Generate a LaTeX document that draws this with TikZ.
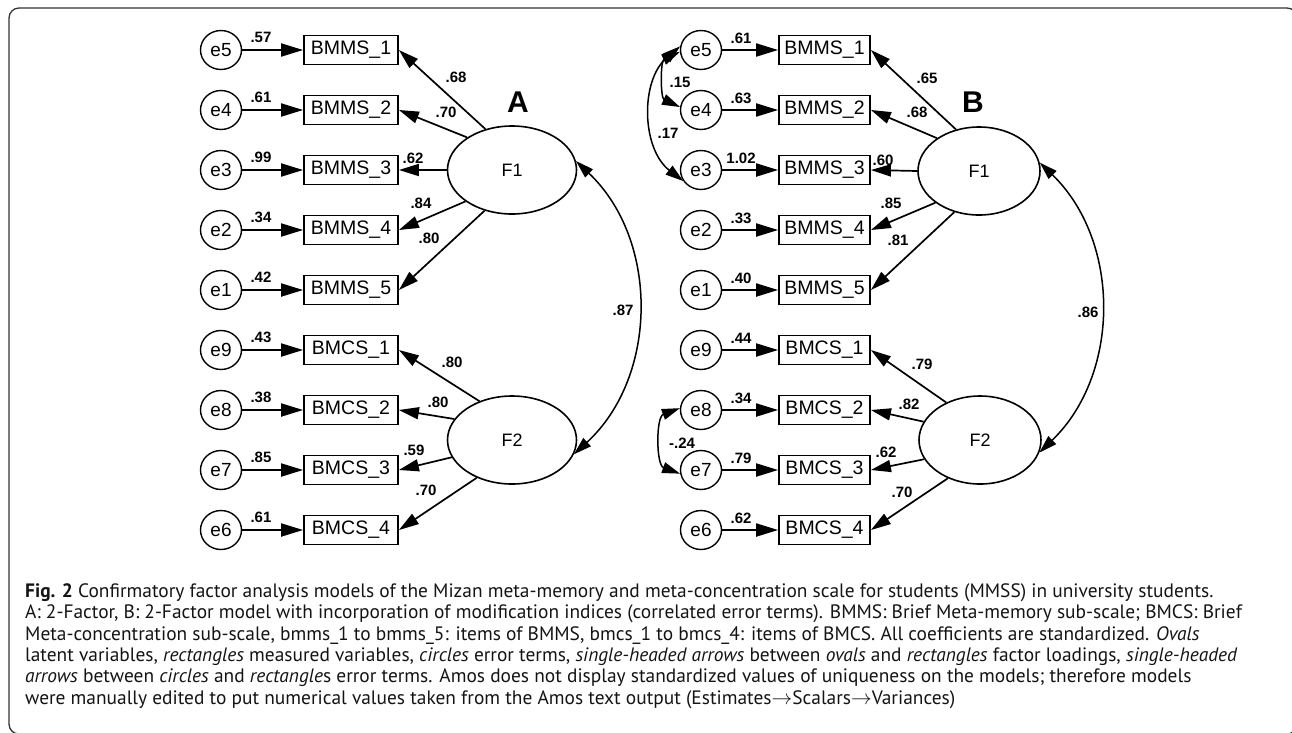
\documentclass[tikz,border=0pt]{standalone}
\usepackage{fontspec}
\setmainfont{Liberation Sans}
\newfontfamily\capfont{PT Sans}
\usetikzlibrary{arrows.meta,shapes.geometric}
\begin{document}
\begin{tikzpicture}[x=1pt,y=-1pt,
  err/.style={ellipse,draw,line width=1.4pt,minimum width=41pt,minimum height=39pt,inner sep=0pt,font=\fontsize{19}{19}\selectfont},
  obs/.style={rectangle,draw,line width=1.8pt,minimum height=29pt,inner sep=0pt,font=\fontsize{19.5}{19.5}\selectfont},
  lat/.style={ellipse,draw,line width=1.6pt,minimum height=88pt,inner sep=0pt,font=\fontsize{18}{18}\selectfont},
  earr/.style={line width=2pt,-{Triangle[length=22pt,width=13pt]}},
  larr/.style={line width=1.7pt,-{Triangle[length=20pt,width=12pt]}},
  carr/.style={line width=1.5pt,{Triangle[length=18pt,width=11pt]}-{Triangle[length=18pt,width=11pt]}},
  num/.style={font=\bfseries\fontsize{15}{15}\selectfont,inner sep=0pt},
  panel/.style={font=\bfseries\fontsize{30}{30}\selectfont,inner sep=0pt},
  captext/.style={anchor=base west,inner sep=0pt,text height=13pt,text depth=4pt,font=\capfont\fontsize{19.4}{21}\selectfont,text=black!92},
]
\useasboundingbox (0,0) rectangle (1292,732);
\draw[line width=1.3pt,rounded corners=10pt,black!80] (9,8) rectangle (1297,734);

% ---------------- Panel A ----------------
\foreach \i/\e/\b/\v in {1/5/BMMS\_1/.57,2/4/BMMS\_2/.61,3/3/BMMS\_3/.99,4/2/BMMS\_4/.34,5/1/BMMS\_5/.42,6/9/BMCS\_1/.43,7/8/BMCS\_2/.38,8/7/BMCS\_3/.85,9/6/BMCS\_4/.61}{
  \node[err] (Ae\i) at (221,{50+60*(\i-1)}) {e\e};
  \node[obs,minimum width=94pt] (Ab\i) at (351,{50+60*(\i-1)}) {\b};
  \draw[earr] (Ae\i) -- (Ab\i);
  \node[num] (Av\i) at (261,{37+60*(\i-1)}) {\v};
}
\node[lat,minimum width=129pt] (AF1) at (512,170) {F1};
\node[lat,minimum width=129pt] (AF2) at (512,440) {F2};
\foreach \i/\a in {1/123,2/144,3/180,4/214,5/236}{\draw[larr] (AF1.\a) -- (Ab\i.east);}
\foreach \i/\a in {6/130,7/160,8/196,9/227}{\draw[larr] (AF2.\a) -- (Ab\i.east);}
\draw[carr] (AF1.8) to[bend left=47] (AF2.-13);
\node[num] (Al1) at (456,77) {.68};
\node[num] (Al2) at (446,112) {.70};
\node[num] (Al3) at (413,158) {.62};
\node[num] (Al4) at (421,203) {.84};
\node[num] (Al5) at (429,238) {.80};
\node[num] (Al6) at (452,362) {.80};
\node[num] (Al7) at (438,402) {.80};
\node[num] (Al8) at (414,450) {.59};
\node[num] (Al9) at (426,490) {.70};
\node[num] (Ac) at (623,310) {.87};
\node[panel] (LA) at (518,102) {A};

% ---------------- Panel B ----------------
\foreach \i/\e/\b/\v in {1/5/BMMS\_1/.61,2/4/BMMS\_2/.63,3/3/BMMS\_3/1.02,4/2/BMMS\_4/.33,5/1/BMMS\_5/.40,6/9/BMCS\_1/.44,7/8/BMCS\_2/.34,8/7/BMCS\_3/.79,9/6/BMCS\_4/.62}{
  \node[err] (Be\i) at (701,{50+60*(\i-1)}) {e\e};
  \node[obs,minimum width=91pt] (Bb\i) at (824.5,{50+60*(\i-1)}) {\b};
  \draw[earr] (Be\i) -- (Bb\i);
  \node[num] (Bv\i) at (741,{38+60*(\i-1)}) {\v};
}
\node[lat,minimum width=122pt] (BF1) at (979,171) {F1};
\node[lat,minimum width=122pt] (BF2) at (980,440) {F2};
\foreach \i/\a in {1/119,2/142,3/180,4/216,5/239}{\draw[larr] (BF1.\a) -- (Bb\i.east);}
\foreach \i/\a in {6/132,7/162,8/199,9/230}{\draw[larr] (BF2.\a) -- (Bb\i.east);}
\draw[carr] (BF1.8) to[bend left=46] (BF2.-12);
\draw[carr] (Be1.185) to[bend right=65] (Be2.172);
\draw[carr] (Be1.170) to[bend right=51] (Be3.212);
\draw[carr] (Be7.175) to[bend right=70] (Be8.190);
\node[num] (Bl1) at (927,78) {.65};
\node[num] (Bl2) at (917,112) {.68};
\node[num] (Bl3) at (883,160) {.60};
\node[num] (Bl4) at (891,203) {.85};
\node[num] (Bl5) at (898,240) {.81};
\node[num] (Bl6) at (922,364) {.79};
\node[num] (Bl7) at (909,404) {.82};
\node[num] (Bl8) at (886,452) {.62};
\node[num] (Bl9) at (902,492) {.70};
\node[num] (Bc) at (1088,312) {.86};
\node[num] (Bk1) at (680,82) {.15};
\node[num] (Bk2) at (668,133) {.17};
\node[num] (Bk3) at (682,443) {-.24};
\node[panel] (LB) at (973,102) {B};

% ---------------- Caption ----------------
\node[captext] (c1) at (25,597.5) {\textbf{Fig. 2} Confirmatory factor analysis models of the Mizan meta-memory and meta-concentration scale for students (MMSS) in university students.};
\node[captext] (c2) at (25,618.9) {A: 2-Factor, B: 2-Factor model with incorporation of modification indices (correlated error terms). BMMS: Brief Meta-memory sub-scale; BMCS: Brief};
\node[captext] (c3) at (25,640.2) {Meta-concentration sub-scale, bmms\_1 to bmms\_5: items of BMMS, bmcs\_1 to bmcs\_4: items of BMCS. All coefficients are standardized. \textit{Ovals}};
\node[captext] (c4) at (25,661.5) {latent variables, \textit{rectangles} measured variables, \textit{circles} error terms, \textit{single-headed arrows} between \textit{ovals} and \textit{rectangles} factor loadings, \textit{single-headed}};
\node[captext] (c5) at (25,682.8) {\textit{arrows} between \textit{circles} and \textit{rectangle}s error terms. Amos does not display standardized values of uniqueness on the models; therefore models};
\node[captext] (c6) at (25,704.1) {were manually edited to put numerical values taken from the Amos text output (Estimates$\rightarrow$Scalars$\rightarrow$Variances)};
\end{tikzpicture}
\end{document}
